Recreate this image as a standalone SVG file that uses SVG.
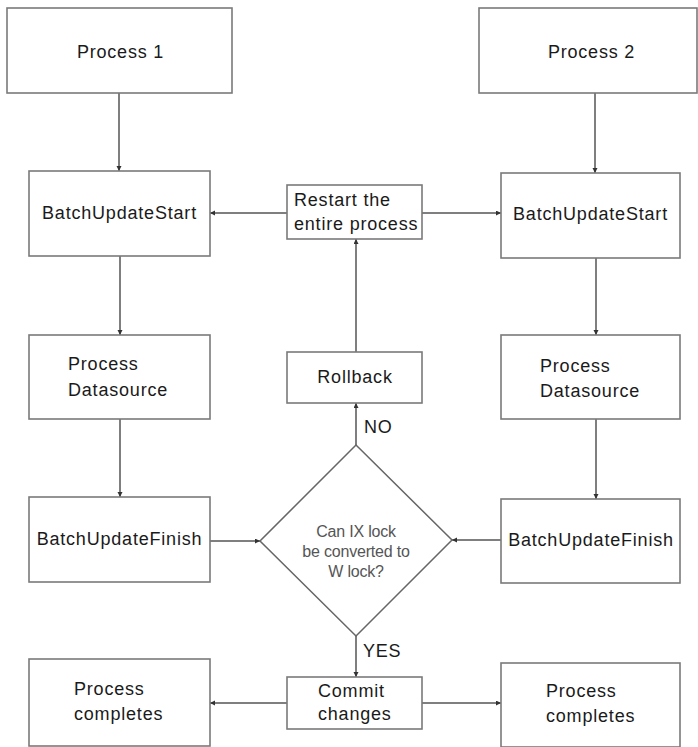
<svg xmlns="http://www.w3.org/2000/svg" width="698" height="747" viewBox="0 0 698 747">
<style>
.box{fill:#fff;stroke:#7a7a7a;stroke-width:1.6}
.t{font-family:"Liberation Sans",Arial,sans-serif;font-size:18px;fill:#1a1a1a;letter-spacing:0.8px}
.c{text-anchor:middle}
.q{font-family:"Liberation Sans",Arial,sans-serif;font-size:16px;fill:#555;text-anchor:middle;letter-spacing:-0.2px}
.ln{fill:none;stroke:#555;stroke-width:1.5;marker-end:url(#ah)}
</style>
<defs>
<marker id="ah" markerUnits="userSpaceOnUse" markerWidth="6" markerHeight="6" refX="5" refY="2.5" orient="auto">
<path d="M0,0 L5,2.5 L0,5 z" fill="#333"/>
</marker>
</defs>
<rect width="698" height="747" fill="#fff"/>
<g id="connectors">
<line class="ln" x1="119" y1="93" x2="119" y2="171"/>
<line class="ln" x1="595" y1="93" x2="595" y2="173"/>
<line class="ln" x1="287" y1="213" x2="210" y2="213"/>
<line class="ln" x1="422" y1="213" x2="501" y2="213"/>
<line class="ln" x1="120" y1="256" x2="120" y2="335"/>
<line class="ln" x1="596" y1="258" x2="596" y2="335"/>
<line class="ln" x1="356" y1="352" x2="356" y2="239"/>
<line class="ln" x1="120" y1="419" x2="120" y2="497"/>
<line class="ln" x1="596" y1="419" x2="596" y2="499"/>
<line class="ln" x1="356" y1="445" x2="356" y2="403"/>
<line class="ln" x1="210" y1="541" x2="260" y2="541"/>
<line class="ln" x1="501" y1="540" x2="452" y2="540"/>
<line class="ln" x1="356" y1="636" x2="356" y2="677"/>
<line class="ln" x1="287" y1="703" x2="210" y2="703"/>
<line class="ln" x1="422" y1="703" x2="501" y2="703"/>
<text class="t" x="364" y="433">NO</text>
<text class="t" x="363" y="657">YES</text>
</g>
<g id="process1">
<rect class="box" x="7" y="8" width="225" height="85"/>
<text class="t c" x="120.5" y="58">Process 1</text>
</g>
<g id="process2">
<rect class="box" x="479" y="8" width="218" height="85"/>
<text class="t c" x="591.5" y="58">Process 2</text>
</g>
<g id="bus1">
<rect class="box" x="29" y="171" width="181" height="85"/>
<text class="t c" x="119.5" y="219">BatchUpdateStart</text>
</g>
<g id="bus2">
<rect class="box" x="501" y="173" width="179" height="85"/>
<text class="t c" x="590.5" y="220">BatchUpdateStart</text>
</g>
<g id="restart">
<rect class="box" x="287" y="185" width="135" height="54"/>
<text class="t" x="294" y="206">Restart the</text>
<text class="t" x="294" y="230">entire process</text>
</g>
<g id="pd1">
<rect class="box" x="29" y="335" width="181" height="84"/>
<text class="t" x="68" y="370">Process</text>
<text class="t" x="68" y="396">Datasource</text>
</g>
<g id="pd2">
<rect class="box" x="501" y="335" width="179" height="84"/>
<text class="t" x="540" y="372">Process</text>
<text class="t" x="540" y="397">Datasource</text>
</g>
<g id="rollback">
<rect class="box" x="287" y="352" width="135" height="51"/>
<text class="t c" x="355" y="383">Rollback</text>
</g>
<g id="buf1">
<rect class="box" x="29" y="497" width="181" height="85"/>
<text class="t c" x="119.5" y="545">BatchUpdateFinish</text>
</g>
<g id="buf2">
<rect class="box" x="501" y="499" width="179" height="84"/>
<text class="t c" x="591" y="546">BatchUpdateFinish</text>
</g>
<g id="decision">
<polygon points="356,445 452,540 356,636 260,541" fill="#fff" stroke="#666" stroke-width="1.5"/>
<text class="q" x="356" y="537">Can IX lock</text>
<text class="q" x="356" y="557">be converted to</text>
<text class="q" x="356" y="577">W lock?</text>
</g>
<g id="commit">
<rect class="box" x="287" y="677" width="135" height="52"/>
<text class="t" x="318" y="697">Commit</text>
<text class="t" x="318" y="720">changes</text>
</g>
<g id="pc1">
<rect class="box" x="29" y="659" width="181" height="87"/>
<text class="t" x="74" y="695">Process</text>
<text class="t" x="74" y="720">completes</text>
</g>
<g id="pc2">
<rect class="box" x="501" y="663" width="179" height="84"/>
<text class="t" x="546" y="697">Process</text>
<text class="t" x="546" y="722">completes</text>
</g>
</svg>
